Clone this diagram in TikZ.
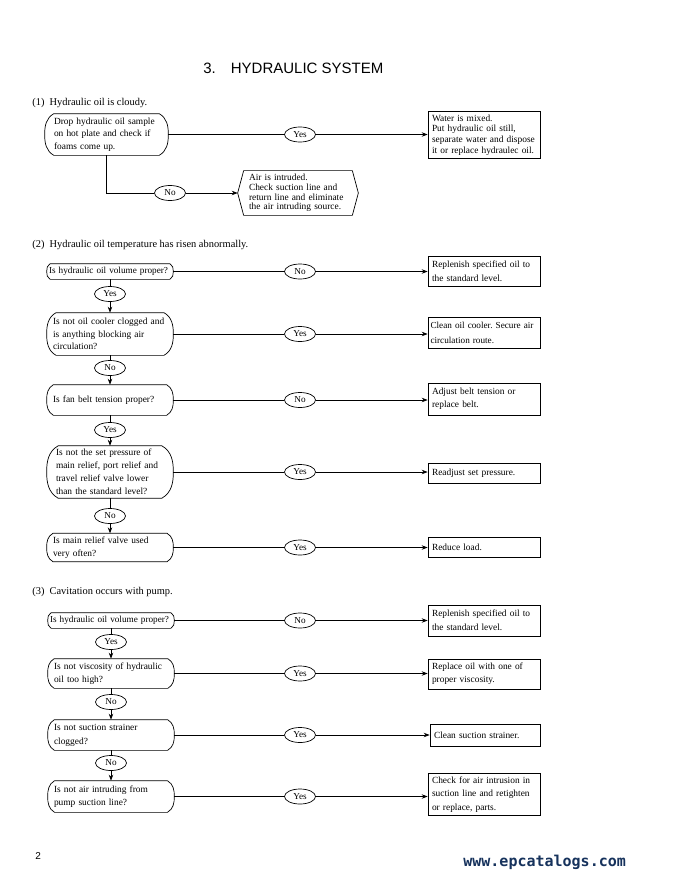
\documentclass[tikz,border=0pt]{standalone}
\usepackage{fontspec}
\setmainfont{Liberation Serif}
\setsansfont{Liberation Sans}
\newfontfamily\webfont{DejaVu Sans Mono}
\usetikzlibrary{shapes.geometric,arrows.meta,calc}
\definecolor{webblue}{RGB}{22,50,92}
\tikzset{
  font={\fontsize{9.4pt}{12.5pt}\selectfont}}
\frenchspacing

\begin{document}
\begin{tikzpicture}[x=1pt,y=1pt,line width=0.7pt]
\tikzstyle{question}=[text width=114pt, inner xsep=6pt, inner ysep=3pt, align=left]
\tikzstyle{answer}=[draw, text width=104pt, inner xsep=4pt, inner ysep=3pt, align=left]
\tikzstyle{reply}=[draw, ellipse, minimum width=31pt, minimum height=15pt, inner sep=0pt, font={\fontsize{9.2pt}{10pt}\selectfont}]
\tikzstyle{headtext}=[anchor=base west, inner sep=0pt, font={\fontsize{10.4pt}{12pt}\selectfont}]
\tikzstyle{flow}=[-{Stealth[length=6pt,width=4.5pt,inset=2pt]}]
\useasboundingbox (0,0) rectangle (675,-878);
% title and headings
\node [headtext, font={\sffamily\fontsize{15pt}{17pt}\selectfont}] (title) at (203,-73) {3.\quad HYDRAULIC SYSTEM};
\node [headtext] (h1) at (32,-105) {(1)\ \ Hydraulic oil is cloudy.};
\node [headtext] (h2) at (32,-247) {(2)\ \ Hydraulic oil temperature has risen abnormally.};
\node [headtext] (h3) at (32,-594) {(3)\ \ Cavitation occurs with pump.};
% (1)
\node [question, text width=105pt, inner xsep=9pt, minimum height=41pt] (a1) at (106.5,-134.5) {Drop hydraulic oil sample\\ on hot plate and check if\\ foams come up.};
\node [answer, minimum height=44pt, font={\fontsize{9.4pt}{10.7pt}\selectfont}] (ra1) at (484,-135) {Water is mixed.\\ Put hydraulic oil still,\\ separate water and dispose\\ it or replace hydraulec oil.};
\node [text width=98pt, inner xsep=11pt, minimum height=42pt, align=left, font={\fontsize{9.4pt}{9.6pt}\selectfont}] (hx) at (298,-193) {Air is intruded.\\ Check suction line and\\ return line and eliminate\\ the air intruding source.};
\draw let \p1=(hx.north west), \p2=(hx.south east) in (\x1+6,\y1) -- (\x2-6,\y1) -- (hx.east) -- (\x2-6,\y2) -- (\x1+6,\y2) -- (hx.west) -- cycle;
\node [reply] (ya) at (300,-134.5) {Yes};
\node [reply] (na) at (170,-193) {No};
\draw (a1.east) -- (ya);
\draw [flow] (ya) -- (ya -| ra1.west);
\draw (a1.south) |- (na);
\draw [flow] (na) -- (hx.west);
% (2)
\node [question, text width=122pt, inner xsep=2pt, minimum height=15pt, font={\fontsize{9.2pt}{12pt}\selectfont}] (b1) at (110,-271.5) {Is hydraulic oil volume proper?};
\node [question, minimum height=42pt] (b2) at (110,-334) {Is not oil cooler clogged and\\ is anything blocking air\\ circulation?};
\node [question, minimum height=30pt] (b3) at (110,-400) {Is fan belt tension proper?};
\node [question, text width=108pt, inner xsep=9pt, minimum height=50pt, font={\fontsize{9.4pt}{13pt}\selectfont}] (b4) at (110,-472) {Is not the set pressure of\\ main relief, port relief and\\ travel relief valve lower\\ than the standard level?};
\node [question, minimum height=27pt, font={\fontsize{9.4pt}{13pt}\selectfont}] (b5) at (110,-547.5) {Is main relief valve used\\ very often?};
\node [answer, minimum height=30pt, font={\fontsize{9.4pt}{14pt}\selectfont}] (rb1) at (484,-271) {Replenish specified oil to\\ the standard level.};
\node [answer, text width=107pt, inner xsep=2.5pt, minimum height=31pt, font={\fontsize{9.2pt}{15pt}\selectfont}] (rb2) at (484,-332.5) {Clean oil cooler. Secure air\\ circulation route.};
\node [answer, minimum height=32pt, font={\fontsize{9.4pt}{13pt}\selectfont}] (rb3) at (484,-399) {Adjust belt tension or\\ replace belt.};
\node [answer, minimum height=20pt] (rb4) at (484,-473) {Readjust set pressure.};
\node [answer, minimum height=20pt] (rb5) at (484,-547) {Reduce load.};
\node [reply] (nb1) at (300,-271.5) {No};
\node [reply] (yb2) at (300,-334) {Yes};
\node [reply] (nb3) at (300,-400) {No};
\node [reply] (yb4) at (300,-472) {Yes};
\node [reply] (yb5) at (300,-547.5) {Yes};
\node [reply] (yb12) at (110,-294) {Yes};
\node [reply] (nb23) at (110,-368) {No};
\node [reply] (yb34) at (110,-430) {Yes};
\node [reply] (nb45) at (110,-516) {No};
\draw (b1.east) -- (nb1);
\draw [flow] (nb1) -- (nb1 -| rb1.west);
\draw (b2.east) -- (yb2);
\draw [flow] (yb2) -- (yb2 -| rb2.west);
\draw (b3.east) -- (nb3);
\draw [flow] (nb3) -- (nb3 -| rb3.west);
\draw (b4.east) -- (yb4);
\draw [flow] (yb4) -- (yb4 -| rb4.west);
\draw (b5.east) -- (yb5);
\draw [flow] (yb5) -- (yb5 -| rb5.west);
\draw (b1.south) -- (yb12);
\draw [flow] (yb12) -- (b2.north);
\draw (b2.south) -- (nb23);
\draw [flow] (nb23) -- (b3.north);
\draw (b3.south) -- (yb34);
\draw [flow] (yb34) -- (b4.north);
\draw (b4.south) -- (nb45);
\draw [flow] (nb45) -- (b5.north);
% (3)
\node [question, text width=122pt, inner xsep=2pt, minimum height=15pt, font={\fontsize{9.2pt}{12pt}\selectfont}] (c1) at (111,-620.5) {Is hydraulic oil volume proper?};
\node [question, minimum height=29pt, font={\fontsize{9.4pt}{13pt}\selectfont}] (c2) at (111,-673.5) {Is not viscosity of hydraulic\\ oil too high?};
\node [question, minimum height=30pt, font={\fontsize{9.4pt}{14pt}\selectfont}] (c3) at (111,-735) {Is not suction strainer\\ clogged?};
\node [question, minimum height=31pt, font={\fontsize{9.4pt}{13pt}\selectfont}] (c4) at (111,-796.5) {Is not air intruding from\\ pump suction line?};
\node [answer, minimum height=31pt, font={\fontsize{9.4pt}{14pt}\selectfont}] (rc1) at (484,-620.5) {Replenish specified oil to\\ the standard level.};
\node [answer, minimum height=30pt, font={\fontsize{9.4pt}{13pt}\selectfont}] (rc2) at (484,-674) {Replace oil with one of\\ proper viscosity.};
\node [answer, text width=102pt, minimum height=22pt] (rc3) at (485,-735) {Clean suction strainer.};
\node [answer, minimum height=41pt, font={\fontsize{9.4pt}{13.5pt}\selectfont}] (rc4) at (484,-794.5) {Check for air intrusion in\\ suction line and retighten\\ or replace, parts.};
\node [reply] (nc1) at (300,-620.5) {No};
\node [reply] (yc2) at (300,-673.5) {Yes};
\node [reply] (yc3) at (300,-735) {Yes};
\node [reply] (yc4) at (300,-796.5) {Yes};
\node [reply] (yc12) at (111,-642) {Yes};
\node [reply] (nc23) at (111,-702) {No};
\node [reply] (nc34) at (111,-763) {No};
\draw (c1.east) -- (nc1);
\draw [flow] (nc1) -- (nc1 -| rc1.west);
\draw (c2.east) -- (yc2);
\draw [flow] (yc2) -- (yc2 -| rc2.west);
\draw (c3.east) -- (yc3);
\draw [flow] (yc3) -- (yc3 -| rc3.west);
\draw (c4.east) -- (yc4);
\draw [flow] (yc4) -- (yc4 -| rc4.west);
\draw (c1.south) -- (yc12);
\draw [flow] (yc12) -- (c2.north);
\draw (c2.south) -- (nc23);
\draw [flow] (nc23) -- (c3.north);
\draw (c3.south) -- (nc34);
\draw [flow] (nc34) -- (c4.north);
% outlines of the question boxes
\foreach \q in {a1,b1,b2,b3,b4,b5,c1,c2,c3,c4}
  \draw let \p1=(\q.north west), \p2=(\q.south east), \n1={0.22*(\y1-\y2)} in
    (\x1+\n1,\y1) -- (\x2-\n1,\y1) to[out=-30,in=90] (\q.east)
    to[out=-90,in=30] (\x2-\n1,\y2) -- (\x1+\n1,\y2)
    to[out=150,in=-90] (\q.west) to[out=90,in=-150] (\x1+\n1,\y1);
% footer
\node [headtext, font={\sffamily\fontsize{10pt}{12pt}\selectfont}] (page) at (35,-859) {2};
\node [headtext, font={\webfont\bfseries\fontsize{15pt}{17pt}\selectfont}, text=webblue] (web) at (463,-866) {www.epcatalogs.com};
\end{tikzpicture}
\end{document}
